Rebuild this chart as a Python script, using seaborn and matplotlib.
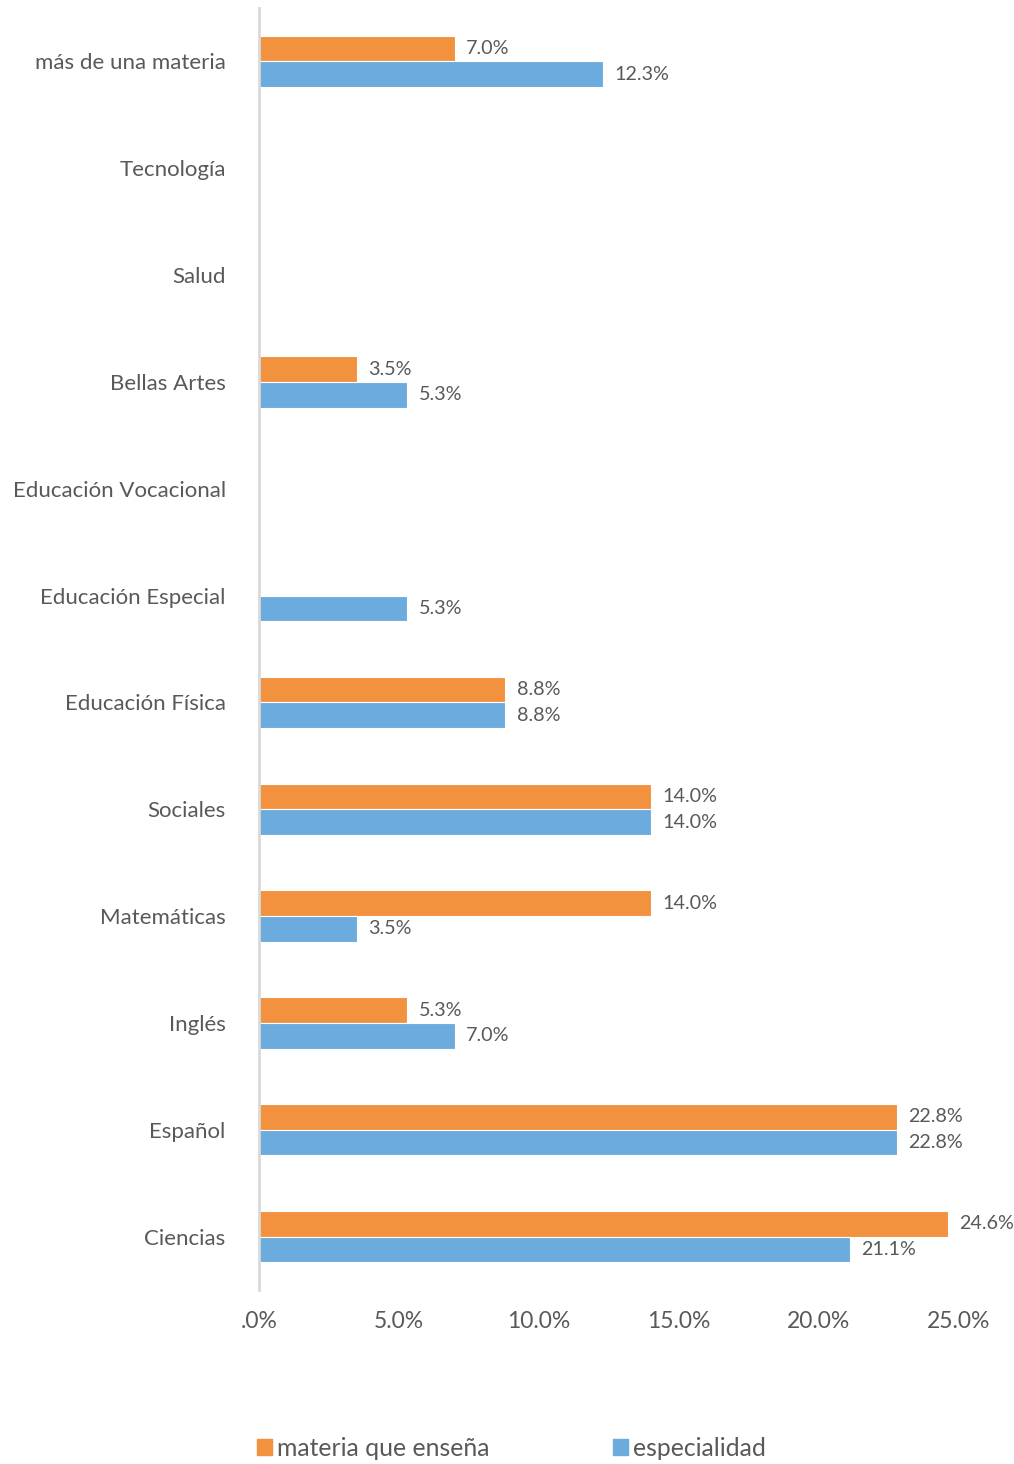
import matplotlib
matplotlib.use("Agg")
import matplotlib.pyplot as plt
import matplotlib.patches as mpatches
from matplotlib.ticker import FuncFormatter
import seaborn as sns
import pandas as pd

categorias = [
    "más de una materia", "Tecnología", "Salud", "Bellas Artes",
    "Educación Vocacional", "Educación Especial", "Educación Física",
    "Sociales", "Matemáticas", "Inglés", "Español", "Ciencias",
]
materia_que_ensena = [7.0, 0.0, 0.0, 3.5, 0.0, 0.0, 8.8, 14.0, 14.0, 5.3, 22.8, 24.6]
especialidad = [12.3, 0.0, 0.0, 5.3, 0.0, 5.3, 8.8, 14.0, 3.5, 7.0, 22.8, 21.1]
series = ["materia que enseña", "especialidad"]
colores = ["#F2923E", "#6CABDD"]
ticks_x = [0, 5, 10, 15, 20, 25]

df = pd.DataFrame({
    "categoria": categorias * 2,
    "valor": materia_que_ensena + especialidad,
    "serie": [series[0]] * len(categorias) + [series[1]] * len(categorias),
})

sns.set_theme(style="white")
plt.rcParams["font.family"] = ["Lato", "DejaVu Sans"]
gris = "#595959"

fig = plt.figure(figsize=(10.14, 14.64), dpi=100)
ax = fig.add_axes([259 / 1014, 1 - 1290 / 1464, 700 / 1014, 1282 / 1464])

sns.barplot(data=df, y="categoria", x="valor", hue="serie", orient="h",
            order=categorias, hue_order=series, palette=colores,
            width=0.48, gap=0, saturation=1, legend=False,
            edgecolor="white", linewidth=0.8, ax=ax)

for cont, vals in zip(ax.containers, [materia_que_ensena, especialidad]):
    etiquetas = [f"{v:.1f}%" if v > 0 else "" for v in vals]
    ax.bar_label(cont, labels=etiquetas, padding=8, fontsize=14.2, color=gris)


def fmt_pct(v, pos):
    txt = f"{v:.1f}%"
    return txt.lstrip("0") if v == 0 else txt


ax.set_xlim(0, 25)
ax.set_ylim(len(categorias) - 0.5, -0.5)
ax.set_xticks(ticks_x)
ax.xaxis.set_major_formatter(FuncFormatter(fmt_pct))
ax.set_xlabel("")
ax.set_ylabel("")
ax.tick_params(axis="x", length=0, pad=15, labelsize=16.5, labelcolor=gris)
ax.tick_params(axis="y", length=0, pad=24, labelsize=16, labelcolor=gris)

for s in ["top", "right", "bottom"]:
    ax.spines[s].set_visible(False)
ax.spines["left"].set_color("#D9D9D9")
ax.spines["left"].set_linewidth(2)
ax.grid(False)

handles = [mpatches.Patch(color=c, label=s) for c, s in zip(colores, series)]
fig.legend(handles=handles, loc="center left", bbox_to_anchor=(235 / 1014, 1 - 1448 / 1464),
           ncol=2, frameon=False, fontsize=17.8, labelcolor=gris,
           handlelength=0.6, handleheight=0.6, handletextpad=0.2,
           columnspacing=5.0)

fig.savefig("out.png", dpi=100, facecolor="white")
